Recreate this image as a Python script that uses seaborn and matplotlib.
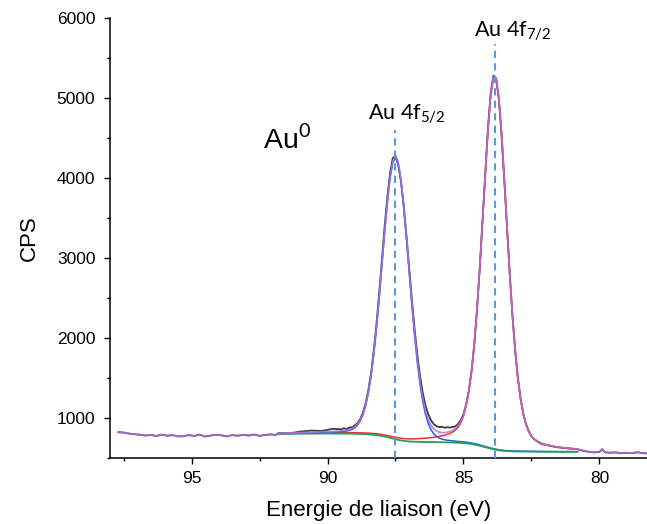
import numpy as np
import pandas as pd
import matplotlib
matplotlib.use('Agg')
import matplotlib.pyplot as plt
from matplotlib.ticker import MultipleLocator
import seaborn as sns

# raw spectrum outside the fitted window (binding energy eV / counts per second)
e_left = [97.7, 97.5, 97.3, 97.1, 96.9, 96.7, 96.5, 96.3, 96.1, 95.9,
          95.7, 95.5, 95.3, 95.1, 94.9, 94.7, 94.5, 94.3, 94.1, 93.9,
          93.7, 93.5, 93.3, 93.1, 92.9, 92.7, 92.5, 92.3, 92.1, 91.9]
cps_left = [822, 818, 805, 798, 790, 780, 788, 775, 792, 778,
            785, 770, 772, 786, 775, 792, 768, 780, 790, 783,
            770, 786, 778, 790, 780, 793, 776, 788, 795, 788]

e_right = [80.6, 80.4, 80.2, 80.0, 79.9, 79.8, 79.6, 79.4, 79.2, 79.0,
           78.8, 78.6, 78.4, 78.2]
cps_right = [590, 578, 570, 575, 610, 572, 565, 570, 558, 566,
             560, 572, 560, 556]

# fitted window
e_fit = [91.8, 91.4, 91.0, 90.6, 90.2, 89.8,
         89.5, 89.4, 89.3, 89.2, 89.1, 89.0, 88.9, 88.8, 88.7, 88.6,
         88.5, 88.4, 88.3, 88.2, 88.1, 88.0, 87.9, 87.8, 87.7, 87.6,
         87.5, 87.4, 87.3, 87.2, 87.1, 87.0, 86.9, 86.8, 86.7, 86.6,
         86.5, 86.4, 86.3, 86.2, 86.1, 86.0, 85.9, 85.8, 85.7, 85.6,
         85.5, 85.4, 85.3, 85.2, 85.1, 85.0, 84.9, 84.8, 84.7, 84.6,
         84.5, 84.4, 84.3, 84.2, 84.1, 84.0, 83.9, 83.8, 83.7, 83.6,
         83.5, 83.4, 83.3, 83.2, 83.1, 83.0, 82.9, 82.8, 82.7, 82.6,
         82.5, 82.4, 82.3, 82.2, 82.1, 82.0,
         81.6, 81.2, 80.8]

cps_fit = [812, 808, 830, 842, 838, 865,
           858, 872, 862, 880, 884, 905, 935, 985, 1065, 1180,
           1345, 1560, 1840, 2170, 2560, 2975, 3390, 3760, 4060, 4250,
           4275, 4170, 3960, 3660, 3290, 2890, 2490, 2120, 1800, 1530,
           1320, 1160, 1050, 975, 925, 900, 885, 890, 878, 884,
           880, 888, 895, 925, 972, 1050, 1170, 1345, 1590, 1925,
           2360, 2880, 3460, 4060, 4620, 5060, 5280, 5250, 4990, 4540,
           3985, 3390, 2810, 2290, 1850, 1505, 1245, 1050, 925, 836,
           772, 735, 712, 690, 672, 668,
           636, 622, 608]

# shirley background
bg = [800, 802, 803, 804, 805, 805,
      805, 805, 804, 804, 803, 803, 802, 801, 800, 798,
      796, 793, 790, 786, 781, 775, 768, 760, 752, 743,
      735, 727, 720, 714, 710, 707, 705, 703, 702, 701,
      700, 700, 699, 699, 698, 698, 697, 697, 696, 695,
      694, 693, 692, 690, 688, 686, 683, 679, 674, 668,
      661, 653, 644, 635, 626, 617, 609, 602, 596, 592,
      588, 586, 584, 583, 582, 581, 581, 580, 580, 580,
      579, 579, 579, 578, 578, 578,
      577, 577, 576]

# components above background
au_5_2 = [5, 6, 8, 10, 13, 17,
          24, 27, 32, 40, 53, 74, 107, 158, 237, 351,
          510, 725, 1000, 1331, 1714, 2130, 2545, 2929, 3242, 3448,
          3520, 3448, 3242, 2929, 2545, 2130, 1714, 1331, 1000, 725,
          510, 351, 237, 158, 107, 74, 53, 40, 32, 27,
          24, 21, 19, 17, 16, 15, 14, 13, 12, 12,
          11, 10, 9, 9, 8, 8, 7, 7, 7, 7,
          6, 6, 6, 5, 5, 5, 5, 5, 5, 4,
          4, 4, 4, 4, 4, 3,
          3, 3, 2]

au_7_2 = [5, 6, 6, 7, 8, 9,
          10, 10, 11, 11, 12, 12, 13, 13, 14, 14,
          15, 15, 16, 17, 18, 19, 19, 20, 22, 23,
          24, 26, 27, 28, 30, 32, 34, 36, 39, 42,
          45, 48, 52, 56, 61, 66, 73, 80, 89, 99,
          113, 131, 156, 193, 250, 336, 468, 656, 917, 1264,
          1704, 2228, 2808, 3407, 3964, 4404, 4648, 4648, 4404, 3964,
          3407, 2808, 2228, 1704, 1264, 917, 656, 468, 336, 250,
          193, 156, 131, 113, 99, 89,
          61, 45, 34]

peak_pos = [87.5, 83.85]
peak_top = [4600, 5680]
peak_names = [r'Au 4f$_{\mathrm{5/2}}$', r'Au 4f$_{\mathrm{7/2}}$']
label_pos = [(87.1, 4800), (83.18, 5840)]

fit = pd.DataFrame({'E': e_fit, 'raw': cps_fit, 'bg': bg,
                    'p52': au_5_2, 'p72': au_7_2})
fit['c52'] = fit['bg'] + fit['p52']
fit['c72'] = fit['bg'] + fit['p72']
fit['env'] = fit['bg'] + fit['p52'] + fit['p72']

raw = pd.DataFrame({'E': e_left + e_fit + e_right,
                    'cps': cps_left + cps_fit + cps_right})
env = pd.DataFrame({'E': e_left + e_fit + e_right,
                    'cps': cps_left + list(fit['env']) + cps_right})

sns.set_style('ticks')
plt.rcParams['font.family'] = ['Liberation Sans', 'DejaVu Sans']
plt.rcParams['mathtext.fontset'] = 'custom'
plt.rcParams['mathtext.rm'] = 'Lato'
plt.rcParams['text.color'] = 'black'
plt.rcParams['axes.labelcolor'] = 'black'
plt.rcParams['xtick.color'] = 'black'
plt.rcParams['ytick.color'] = 'black'

fig = plt.figure(figsize=(6.47, 5.24), dpi=100)
ax = fig.add_axes([0.170, 0.126, 0.830, 0.8396])

kw = dict(ax=ax, estimator=None, sort=False, legend=False)
sns.lineplot(data=raw, x='E', y='cps', color='#3c3c3c', lw=1.3, zorder=2, **kw)
sns.lineplot(data=fit, x='E', y='c72', color='#e8322e', lw=1.1, zorder=3, **kw)
sns.lineplot(data=fit, x='E', y='c52', color='#1f5fe0', lw=1.1, zorder=3, **kw)
sns.lineplot(data=fit, x='E', y='bg', color='#22a05a', lw=1.3, zorder=4, **kw)
sns.lineplot(data=env, x='E', y='cps', color='#b56ee0', lw=1.2, alpha=0.85, zorder=5, **kw)

ax.vlines(peak_pos, 500, peak_top, colors='#5b9bd5', linestyles=(0, (3.5, 2.5)), lw=1.5, zorder=6)

for name, (x, y) in zip(peak_names, label_pos):
    ax.text(x, y, name, ha='center', va='center', fontsize=15.5, family='Lato')
ax.text(91.5, 4475, r'Au$^{\mathrm{0}}$', ha='center', va='center', fontsize=20.5)

ax.set_xlim(98.0, 78.25)
ax.set_ylim(500, 6000)
ax.xaxis.set_major_locator(MultipleLocator(5))
ax.xaxis.set_minor_locator(MultipleLocator(2.5))
ax.yaxis.set_major_locator(MultipleLocator(1000))
ax.yaxis.set_minor_locator(MultipleLocator(500))
ax.tick_params(which='major', direction='out', length=4.5, width=1, labelsize=12.5, color='black')
ax.tick_params(which='minor', direction='out', length=2.5, width=1, color='black')
ax.tick_params(axis='y', pad=6)
ax.tick_params(axis='x', pad=5)
for s in ['left', 'bottom']:
    ax.spines[s].set_color('black')
    ax.spines[s].set_linewidth(1.1)
sns.despine(ax=ax)

ax.set_xlabel('Energie de liaison (eV)', fontsize=16, labelpad=10)
ax.set_ylabel('CPS', fontsize=16, labelpad=12)

fig.savefig('out.png', dpi=100)
